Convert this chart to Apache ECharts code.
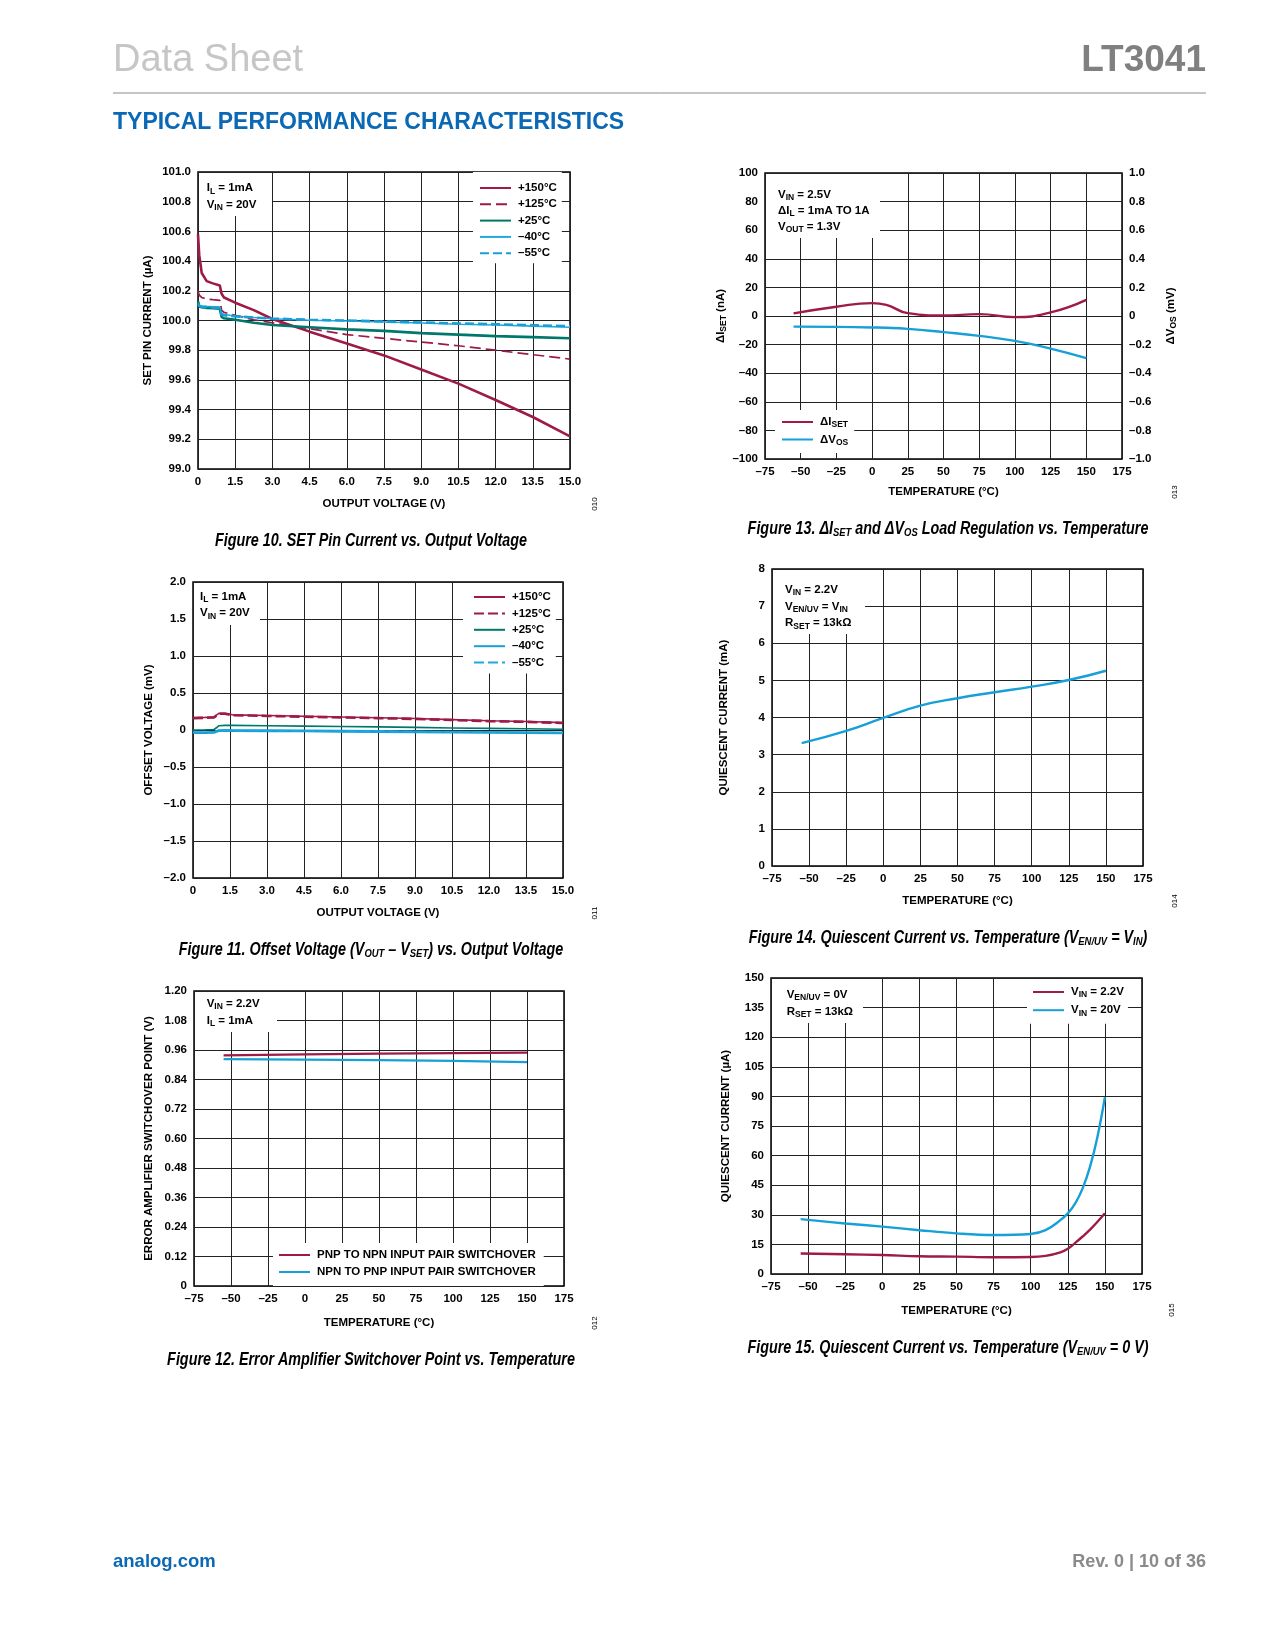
<!DOCTYPE html>
<html><head><meta charset="utf-8">
<script src="https://cdn.jsdelivr.net/npm/echarts@6/dist/echarts.min.js"></script>
<style>html,body{margin:0;padding:0;background:#fff}#c{width:1275px;height:1650px}</style>
</head><body><div id="c"></div>
<script>
// ---------- Figure 10 data (SET pin current, uA vs output voltage, V)
const c1X = [0, 0.05, 0.15, 0.35, 0.6, 0.88, 0.95, 1.05, 1.5, 2.25, 3.0, 4.5, 6.0, 7.5, 9.0, 10.5, 12.0, 13.5, 15.0];
const c1T150 = [100.58, 100.44, 100.32, 100.265, 100.25, 100.235, 100.18, 100.155, 100.12, 100.07, 100.01, 99.925, 99.845, 99.765, 99.67, 99.575, 99.465, 99.35, 99.22];
const c1T125 = [100.20, 100.17, 100.155, 100.145, 100.14, 100.135, 100.07, 100.055, 100.035, 100.005, 99.985, 99.945, 99.905, 99.88, 99.855, 99.83, 99.80, 99.77, 99.74];
const c1T25 = [100.13, 100.095, 100.09, 100.085, 100.083, 100.08, 100.025, 100.015, 100.005, 99.985, 99.97, 99.955, 99.94, 99.93, 99.915, 99.905, 99.895, 99.888, 99.88];
const c1Tm40 = [100.115, 100.1, 100.098, 100.095, 100.093, 100.09, 100.045, 100.04, 100.03, 100.02, 100.012, 100.002, 99.997, 99.99, 99.983, 99.975, 99.97, 99.962, 99.955];
const c1Tm55 = [100.105, 100.095, 100.092, 100.09, 100.088, 100.085, 100.04, 100.035, 100.028, 100.02, 100.013, 100.005, 100.0, 99.993, 99.987, 99.98, 99.975, 99.968, 99.962];
const c1XTicks = 1.5;

// ---------- Figure 11 data (offset voltage, mV vs output voltage, V)
const c2X = [0, 0.5, 0.85, 0.95, 1.05, 1.3, 1.6, 3.0, 4.5, 6.0, 7.5, 9.0, 10.5, 12.0, 13.5, 15.0];
const c2T150 = [0.165, 0.17, 0.175, 0.2, 0.225, 0.225, 0.205, 0.195, 0.185, 0.175, 0.165, 0.155, 0.14, 0.125, 0.115, 0.1];
const c2T125 = [0.16, 0.165, 0.17, 0.195, 0.22, 0.22, 0.2, 0.19, 0.18, 0.17, 0.16, 0.15, 0.135, 0.12, 0.11, 0.095];
const c2T25 = [0.0, 0.003, 0.007, 0.03, 0.058, 0.062, 0.063, 0.057, 0.052, 0.047, 0.042, 0.035, 0.028, 0.022, 0.016, 0.01];
const c2Tm40 = [-0.035, -0.035, -0.033, -0.02, -0.008, -0.006, -0.007, -0.01, -0.013, -0.017, -0.02, -0.024, -0.028, -0.032, -0.035, -0.04];
const c2Tm55 = [-0.03, -0.03, -0.028, -0.015, -0.005, -0.003, -0.005, -0.008, -0.011, -0.015, -0.018, -0.022, -0.026, -0.03, -0.033, -0.037];

// ---------- Figure 12 data (switchover point, V vs temperature)
const c3T = [-55, 0, 50, 100, 150];
const c3Pnp = [0.938, 0.942, 0.945, 0.947, 0.949];
const c3Npn = [0.923, 0.921, 0.919, 0.916, 0.911];

// ---------- Figure 13 data (dISET nA, dVOS mV vs temperature)
const c4T = [-55, -25, 0, 10, 25, 50, 75, 100, 125, 150];
const c4Iset = [1.8, 6.5, 9.0, 7.8, 2.0, 0.3, 1.3, -0.8, 2.5, 11.3];
const c4Vos = [-0.074, -0.076, -0.08, -0.082, -0.09, -0.113, -0.139, -0.174, -0.228, -0.295];

// ---------- Figure 14 data (quiescent current, mA vs temperature)
const c5T = [-55, -25, 0, 25, 50, 75, 100, 125, 150];
const c5Iq = [3.31, 3.64, 3.99, 4.32, 4.52, 4.68, 4.83, 5.01, 5.26];

// ---------- Figure 15 data (quiescent current, uA vs temperature)
const c6T = [-55, -25, 0, 25, 50, 75, 100, 110, 120, 125, 130, 135, 140, 145, 150];
const c6V22 = [10.4, 10.0, 9.6, 9.0, 8.8, 8.5, 8.6, 9.2, 11.0, 12.8, 15.8, 19.0, 22.5, 26.5, 30.8];
const c6V20 = [27.8, 25.6, 24.0, 22.2, 20.6, 19.8, 20.3, 22.2, 27.3, 30.7, 35.8, 43.4, 54.4, 69.6, 89.6];

// ---------- styles
const F = '"Liberation Sans", Arial, sans-serif';
const RED = '#9e1a47', GRN = '#00776b', BLU = '#17a0d7';
const zip = (xs, ys) => xs.map((x, i) => [x, ys[i]]);
const dash = s => String(s).replace('-', '\u2013');
const fmt = d => v => (Math.abs(v) < 1e-9 ? '0' : dash(v.toFixed(d)));
const SUB = { fontSize: 8.5, fontWeight: 'bold', fontFamily: F, padding: [6, 0, 0, 0] };
const tick = { fontSize: 11.5, fontWeight: 'bold', fontFamily: F, color: '#000' };
const nameTS = { fontSize: 11.5, fontWeight: 'bold', fontFamily: F, color: '#000', rich: { s: SUB } };
const split = { show: true, lineStyle: { color: '#222', width: 1 } };

function grid(l, t, w, h) {
  return { left: l, top: t, width: w, height: h, show: true, borderColor: '#000', borderWidth: 1.5, backgroundColor: 'transparent', containLabel: false };
}
function xAx(gi, min, max, interval, f, name, gap) {
  return { type: 'value', gridIndex: gi, min, max, interval, name, nameLocation: 'middle', nameGap: gap, nameTextStyle: nameTS,
    axisLine: { show: false }, axisTick: { show: false }, axisLabel: Object.assign({ margin: 7, formatter: f, showMaxLabel: true, showMinLabel: true }, tick), splitLine: split };
}
function yAx(gi, min, max, interval, f, name, gap, pos) {
  return { type: 'value', gridIndex: gi, min, max, interval, name, nameLocation: 'middle', nameGap: gap, nameRotate: 90, nameTextStyle: nameTS, position: pos || 'left',
    axisLine: { show: false }, axisTick: { show: false }, axisLabel: Object.assign({ margin: 7, formatter: f, showMaxLabel: true, showMinLabel: true }, tick), splitLine: pos === 'right' ? { show: false } : split };
}
function ln(name, xi, yi, data, color, width, type, smooth) {
  return { type: 'line', name, xAxisIndex: xi, yAxisIndex: yi, data, symbol: 'none', color, smooth: smooth || false,
    lineStyle: { color, width, type: type || 'solid', cap: 'butt' }, itemStyle: { color }, z: 3, silent: true };
}
const LBL = {
  a150: '+150°C', a125: '+125°C', a25: '+25°C', am40: '\u201340°C', am55: '\u201355°C',
  b150: '+150°C', b125: '+125°C', b25: '+25°C', bm40: '\u201340°C', bm55: '\u201355°C',
  pnp: 'PNP TO NPN INPUT PAIR SWITCHOVER', npn: 'NPN TO PNP INPUT PAIR SWITCHOVER',
  iset: '\u0394I{s|SET}', vos: '\u0394V{s|OS}', v22: 'V{s|IN} = 2.2V', v20: 'V{s|IN} = 20V'
};
function leg(data, left, top, padding, gap) {
  return { show: true, orient: 'vertical', left, top, padding, itemWidth: 31, itemHeight: 12, itemGap: gap, backgroundColor: '#fff', selectedMode: false,
    data, formatter: n => LBL[n], textStyle: Object.assign({ rich: { s: SUB }, padding: [0, 0, 0, 2] }, tick), itemStyle: { opacity: 0 }, z: 6 };
}
function txt(x, y, text, extra) {
  return Object.assign({ type: 'text', x, y, z: 20, style: Object.assign({ text, fontSize: 11.5, fontWeight: 'bold', fontFamily: F, fill: '#000', align: 'left', verticalAlign: 'middle', rich: { s: SUB } }, extra || {}) });
}
function box(x1, y1, x2, y2) {
  return { type: 'rect', z: 15, shape: { x: x1, y: y1, width: x2 - x1, height: y2 - y1 }, style: { fill: '#fff' } };
}
const CAPSUB = { fontSize: 11.5, fontWeight: 'bold', fontStyle: 'italic', fontFamily: F, padding: [7, 0, 0, 0] };
function cap(x, y, text) {
  return { type: 'text', x, y, z: 20, scaleX: 0.82, style: { text, fontSize: 17.5, fontWeight: 'bold', fontStyle: 'italic', fontFamily: F, fill: '#000', align: 'center', verticalAlign: 'middle', rich: { s: CAPSUB } } };
}
function code(x, y, text) {
  return { type: 'text', x, y, z: 20, rotation: Math.PI / 2, style: { text, fontSize: 8, fontFamily: F, fill: '#000', align: 'center', verticalAlign: 'middle' } };
}

const option = {
  animation: false,
  backgroundColor: '#fff',
  grid: [grid(198, 172, 372, 297), grid(193, 582, 370, 296), grid(194, 991, 370, 295),
         grid(765, 173, 357, 286), grid(772, 569, 371, 297), grid(771, 978, 371, 296)],
  xAxis: [
    xAx(0, 0, 15, c1XTicks, fmt(1), 'OUTPUT VOLTAGE (V)', 29),
    xAx(1, 0, 15, c1XTicks, fmt(1), 'OUTPUT VOLTAGE (V)', 29),
    xAx(2, -75, 175, 25, fmt(0), 'TEMPERATURE (°C)', 31),
    xAx(3, -75, 175, 25, fmt(0), 'TEMPERATURE (°C)', 27),
    xAx(4, -75, 175, 25, fmt(0), 'TEMPERATURE (°C)', 29),
    xAx(5, -75, 175, 25, fmt(0), 'TEMPERATURE (°C)', 31)
  ],
  yAxis: [
    yAx(0, 99.0, 101.0, 0.2, v => v.toFixed(1), 'SET PIN CURRENT (µA)', 44),
    yAx(1, -2, 2, 0.5, fmt(1), 'OFFSET VOLTAGE (mV)', 38),
    yAx(2, 0, 1.2, 0.12, fmt(2), 'ERROR AMPLIFIER SWITCHOVER POINT (V)', 39),
    yAx(3, -100, 100, 20, fmt(0), '\u0394I{s|SET} (nA)', 36),
    yAx(3, -1, 1, 0.2, fmt(1), '\u0394V{s|OS} (mV)', 41, 'right'),
    yAx(4, 0, 8, 1, fmt(0), 'QUIESCENT CURRENT (mA)', 42),
    yAx(5, 0, 150, 15, fmt(0), 'QUIESCENT CURRENT (µA)', 39)
  ],
  legend: [
    leg(['a150', 'a125', 'a25', 'am40', 'am55'], 473, 172, [10, 5, 4, 6], 4.3),
    leg(['b150', 'b125', 'b25', 'bm40', 'bm55'], 463, 583, [8, 5, 5, 10], 4.4),
    leg(['pnp', 'npn'], 273, 1243, [6, 8, 8, 5], 5),
    leg(['iset', 'vos'], 775, 410, [6, 6, 6, 6], 4),
    leg(['v22', 'v20'], 1027, 979, [7, 4, 6, 5], 4.7)
  ],
  series: [
    ln('a150', 0, 0, zip(c1X, c1T150), RED, 2.6),
    ln('a125', 0, 0, zip(c1X, c1T125), RED, 1.7, [11, 5]),
    ln('a25', 0, 0, zip(c1X, c1T25), GRN, 2.6),
    ln('am40', 0, 0, zip(c1X, c1Tm40), '#1fa8e0', 1.6),
    ln('am55', 0, 0, zip(c1X, c1Tm55), BLU, 2.6, [9, 4]),

    ln('b150', 1, 1, zip(c2X, c2T150), RED, 1.6),
    ln('b125', 1, 1, zip(c2X, c2T125), RED, 2.6, [10, 4]),
    ln('b25', 1, 1, zip(c2X, c2T25), GRN, 1.6),
    ln('bm40', 1, 1, zip(c2X, c2Tm40), BLU, 2.8),
    ln('bm55', 1, 1, zip(c2X, c2Tm55), '#1fa8e0', 1.6, [10, 4]),

    ln('pnp', 2, 2, zip(c3T, c3Pnp), RED, 2.2),
    ln('npn', 2, 2, zip(c3T, c3Npn), BLU, 2.2),

    ln('iset', 3, 3, zip(c4T, c4Iset), RED, 2.4, 'solid', 0.5),
    ln('vos', 3, 4, zip(c4T, c4Vos), BLU, 2.4, 'solid', 0.5),

    ln('iq5', 4, 5, zip(c5T, c5Iq), BLU, 2.4, 'solid', 0.5),

    ln('v22', 5, 6, zip(c6T, c6V22), RED, 2.4, 'solid', 0.4),
    ln('v20', 5, 6, zip(c6T, c6V20), BLU, 2.4, 'solid', 0.4)
  ],
  graphic: { elements: [
    // page header
    { type: 'text', x: 113, y: 61, z: 20, style: { text: 'Data Sheet', fontSize: 38, fontFamily: F, fill: '#c6c6c6', align: 'left', verticalAlign: 'middle' } },
    { type: 'text', x: 1206, y: 61, z: 20, style: { text: 'LT3041', fontSize: 37, fontWeight: 'bold', fontFamily: F, fill: '#808080', align: 'right', verticalAlign: 'middle' } },
    { type: 'line', z: 20, shape: { x1: 113, y1: 93, x2: 1206, y2: 93 }, style: { stroke: '#8a8a8a', lineWidth: 1 } },
    { type: 'text', x: 113, y: 123, z: 20, style: { text: 'TYPICAL PERFORMANCE CHARACTERISTICS', fontSize: 23, fontWeight: 'bold', fontFamily: F, fill: '#0a68b4', align: 'left', verticalAlign: 'middle' } },
    // footer
    { type: 'text', x: 113, y: 1562, z: 20, style: { text: 'analog.com', fontSize: 18.5, fontWeight: 'bold', fontFamily: F, fill: '#0a68b4', align: 'left', verticalAlign: 'middle' } },
    { type: 'text', x: 1206, y: 1562, z: 20, style: { text: 'Rev. 0 | 10 of 36', fontSize: 18, fontWeight: 'bold', fontFamily: F, fill: '#8a8a8a', align: 'right', verticalAlign: 'middle' } },
    // annotation boxes
    box(199, 173, 272, 216), txt(206.7, 188.3, 'I{s|L} = 1mA'), txt(206.7, 205, 'V{s|IN} = 20V'),
    box(194, 583, 260, 625), txt(200, 596.7, 'I{s|L} = 1mA'), txt(200, 613.3, 'V{s|IN} = 20V'),
    box(195, 992, 277, 1032), txt(206.7, 1004, 'V{s|IN} = 2.2V'), txt(206.7, 1020.7, 'I{s|L} = 1mA'),
    box(766, 174, 880, 238), txt(778, 195, 'V{s|IN} = 2.5V'), txt(778, 211, '\u0394I{s|L} = 1mA TO 1A'), txt(778, 226.7, 'V{s|OUT} = 1.3V'),
    box(773, 570, 865, 634), txt(785, 590, 'V{s|IN} = 2.2V'), txt(785, 606.7, 'V{s|EN/UV} = V{s|IN}'), txt(785, 623.3, 'R{s|SET} = 13k\u03A9'),
    box(772, 979, 863, 1023), txt(786.7, 995, 'V{s|EN/UV} = 0V'), txt(786.7, 1011.7, 'R{s|SET} = 13k\u03A9'),
    // captions
    cap(371, 541, 'Figure 10. SET Pin Current vs. Output Voltage'),
    cap(371, 950, 'Figure 11. Offset Voltage (V{s|OUT} \u2013 V{s|SET}) vs. Output Voltage'),
    cap(371, 1360, 'Figure 12. Error Amplifier Switchover Point vs. Temperature'),
    cap(948, 529, 'Figure 13. \u0394I{s|SET} and \u0394V{s|OS} Load Regulation vs. Temperature'),
    cap(948, 938, 'Figure 14. Quiescent Current vs. Temperature (V{s|EN/UV} = V{s|IN})'),
    cap(948, 1348, 'Figure 15. Quiescent Current vs. Temperature (V{s|EN/UV} = 0 V)'),
    // figure codes
    code(595, 504, '010'), code(595, 913, '011'), code(595, 1323, '012'),
    code(1175, 492, '013'), code(1175, 901, '014'), code(1172, 1310, '015')
  ] }
};
const chart = echarts.init(document.getElementById('c'), null, { renderer: 'canvas', width: 1275, height: 1650 });
chart.setOption(option);
</script></body></html>
